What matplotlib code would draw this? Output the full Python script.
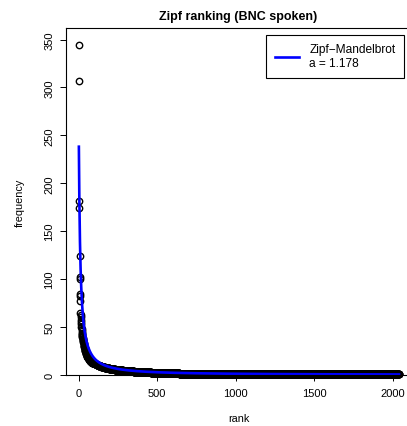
import numpy as np
import matplotlib
matplotlib.use("Agg")
import matplotlib.pyplot as plt

plt.rcParams["font.family"] = ["Liberation Sans", "DejaVu Sans"]

# most frequent words, one frequency per rank
top_freqs = [344, 307, 182, 174, 124, 102, 100, 85, 82, 77, 65, 63, 60, 57, 55,
             53, 50, 48, 46, 44, 43, 42, 41, 40, 39, 38, 37, 36, 35, 34, 33, 32,
             31, 30, 30, 29, 28, 28, 27, 26, 26, 25, 25, 24, 24, 23, 23, 22, 22,
             21, 21]

# frequency spectrum for the rest: frequency value -> number of word types
spc_freq = [20, 19, 18, 17, 16, 15, 14, 13, 12, 11, 10, 9, 8, 7, 6, 5, 4, 3, 2, 1]
spc_types = [3, 4, 4, 5, 5, 6, 7, 8, 9, 11, 14, 17, 22, 28, 36, 50, 70, 110, 180, 1400]

# fitted Zipf-Mandelbrot model: f(r) = C / (r + b)^a
zm_a = 1.178
zm_b = 11.0
zm_C = 4448.0

freqs = np.concatenate([top_freqs, np.repeat(spc_freq, spc_types)])
ranks = np.arange(1, len(freqs) + 1)
zm_fit = zm_C / (ranks + zm_b) ** zm_a

W, H = 407, 427
fig = plt.figure(figsize=(W / 100, H / 100), dpi=100)
x0, x1 = -81, 2122
ax = fig.add_axes([66 / W, 1 - 376 / H, (x1 - x0) * 0.157 / W, (376 - 29) / H])

ax.plot(ranks, freqs, "o", mfc="none", mec="black", ms=4.6, mew=1.0, clip_on=False)
ax.plot(ranks, zm_fit, color="#0000ff", lw=1.9, label="Zipf\u2212Mandelbrot\na = 1.178")

ax.set_xlim(x0, x1)
ax.set_ylim(0, 362)
ax.set_xticks([0, 500, 1000, 1500, 2000])
ax.set_yticks(range(0, 351, 50))
ax.tick_params(direction="out", length=4.3, width=0.7, labelsize=8, pad=5)
ax.tick_params(axis="y", pad=4)
for lab in ax.get_yticklabels():
    lab.set_rotation(90)
    lab.set_va("center")
for s in ax.spines.values():
    s.set_linewidth(0.8)

ax.set_xlabel("rank", fontsize=7.8, labelpad=11)
ax.set_ylabel("frequency", fontsize=7.8, labelpad=14)
fig.text(238 / W, 1 - 17 / H, "Zipf ranking (BNC spoken)", fontsize=9,
         fontweight="bold", ha="center", va="center")

leg = ax.legend(loc="upper right", bbox_to_anchor=(404 / W, 1 - 36 / H),
                bbox_transform=fig.transFigure, fontsize=8.6, fancybox=False,
                edgecolor="black", framealpha=1, handlelength=2.0,
                borderpad=0.7, handletextpad=0.9, borderaxespad=0)
leg.get_frame().set_linewidth(0.8)

fig.savefig("out.png", dpi=100)
